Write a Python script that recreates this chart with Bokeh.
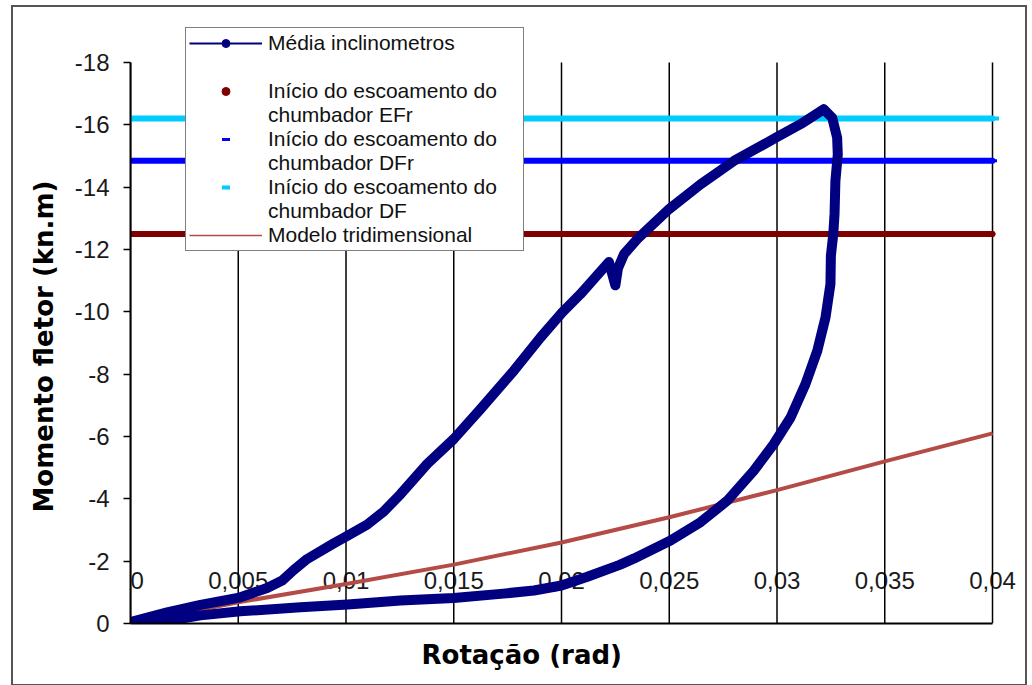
from bokeh.plotting import figure
from bokeh.models import Range1d, FixedTicker, Legend, LegendItem, Title
from bokeh.core.properties import value
from bokeh.embed import file_html
from bokeh.resources import INLINE

# ---- data ----
# Média inclinometros: rotation (rad) and bending moment (kN.m), loop order
rot = [0.0000, 0.0017, 0.00325, 0.0051, 0.00634, 0.00704, 0.00758, 0.0082,
       0.00943, 0.01008, 0.01098, 0.01176, 0.01253, 0.01377, 0.0150, 0.01624,
       0.01779, 0.01903, 0.02003, 0.02088, 0.0222, 0.0225, 0.02262, 0.0229,
       0.02351, 0.0250, 0.02645, 0.0280, 0.03001, 0.03109, 0.03217,
       0.03256, 0.03279, 0.03282, 0.03271, 0.03267, 0.03261, 0.0325, 0.03248,
       0.03225, 0.03187, 0.03132, 0.03063, 0.02985, 0.02892, 0.02769, 0.02645,
       0.02506, 0.02335, 0.0227, 0.0212, 0.0200, 0.01872, 0.01717, 0.0150,
       0.01253, 0.01008, 0.00789, 0.0051, 0.00325, 0.0010]
mom = [-0.05, -0.36, -0.60, -0.84, -1.14, -1.38, -1.72, -2.07,
       -2.57, -2.82, -3.17, -3.60, -4.15, -5.12, -5.92, -6.88,
       -8.11, -9.18, -9.98, -10.57, -11.60, -10.85, -11.40, -11.85,
       -12.33, -13.30, -14.09, -14.84, -15.61, -16.02, -16.50,
       -16.23, -15.59, -15.05, -14.20, -13.14, -12.49, -11.80, -10.89,
       -9.82, -8.75, -7.68, -6.61, -5.76, -4.90, -3.94, -3.25,
       -2.66, -2.08, -1.88, -1.50, -1.22, -1.06, -0.95, -0.82,
       -0.74, -0.61, -0.52, -0.39, -0.26, 0.00]

# Modelo tridimensional
modelo_rot = [0.0, 0.005, 0.01, 0.015, 0.02, 0.025, 0.03, 0.035, 0.04]
modelo_mom = [0.0, -0.68, -1.27, -1.89, -2.60, -3.41, -4.28, -5.20, -6.10]

# Início do escoamento (constant levels)
lim_rot = [0.0, 0.04]
efr_mom = [-12.5, -12.5]
dfr_mom = [-14.85, -14.85]
df_mom = [-16.2, -16.2]

x_ticks = [0.0, 0.005, 0.01, 0.015, 0.02, 0.025, 0.03, 0.035, 0.04]
x_tick_labels = ["0", "0,005", "0,01", "0,015", "0,02", "0,025", "0,03", "0,035", "0,04"]
y_ticks = [0, -2, -4, -6, -8, -10, -12, -14, -16, -18]
y_tick_labels = ["0", "-2", "-4", "-6", "-8", "-10", "-12", "-14", "-16", "-18"]

label_font = "Liberation Sans"
title_font = "DejaVu Sans"

p = figure(frame_width=888, frame_height=608, output_backend="svg", toolbar_location=None,
           title=None,
           x_range=Range1d(0, 0.041206), y_range=Range1d(0, -19.508),
           min_border_left=117, min_border_right=7,
           min_border_top=8, min_border_bottom=61)
p.styles = {"border": "2px solid #555555", "margin-left": "11px", "margin-top": "5px"}
p.outline_line_color = None
p.background_fill_color = "white"
p.border_fill_color = "white"
p.xgrid.grid_line_color = None
p.ygrid.grid_line_color = None

# y axis
p.yaxis.ticker = FixedTicker(ticks=y_ticks)
p.yaxis.major_label_overrides = dict(zip(y_ticks, y_tick_labels))
p.yaxis.bounds = (min(y_ticks), max(y_ticks))
p.yaxis.axis_line_color = "black"
p.yaxis.axis_line_width = 2
p.yaxis.major_tick_line_color = "black"
p.yaxis.major_tick_line_width = 1.5
p.yaxis.major_tick_out = 7
p.yaxis.major_tick_in = 0
p.yaxis.minor_tick_line_color = None
p.yaxis.major_label_standoff = 14
p.yaxis.major_label_text_font = label_font
p.yaxis.major_label_text_font_size = "24px"
p.yaxis.major_label_text_color = "#1a1a1a"

p.add_layout(Title(text="Momento fletor (kn.m)", align="left", offset=111, standoff=26,
                   text_font=title_font, text_font_size="26px", text_font_style="bold",
                   text_color="black"), "left")

# x axis: only the line; labels sit inside the plot like the original
p.xaxis.ticker = FixedTicker(ticks=[])
p.xaxis.bounds = (min(x_ticks), max(x_ticks))
p.xaxis.axis_line_color = "black"
p.xaxis.axis_line_width = 2
p.xaxis.major_tick_line_color = None
p.xaxis.minor_tick_line_color = None

p.add_layout(Title(text="Rotação (rad)", align="left", offset=291, standoff=28,
                   text_font=title_font, text_font_size="26px", text_font_style="bold",
                   text_color="black"), "below")

# vertical grid lines at the x ticks, from 0 to -18
p.segment(x0=x_ticks, y0=max(y_ticks), x1=x_ticks, y1=min(y_ticks),
          line_color="black", line_width=1.5, level="underlay")

# x tick labels inside the plot area (first one kept clear of the left edge)
p.text(x=x_ticks[:1], y=-1.38, text=x_tick_labels[:1],
       text_font=value(label_font), text_font_size="24px",
       text_color="#1a1a1a", text_align="left", text_baseline="middle",
       level="image")
p.text(x=x_ticks[1:], y=-1.38, text=x_tick_labels[1:],
       text_font=value(label_font), text_font_size="24px",
       text_color="#1a1a1a", text_align="center", text_baseline="middle",
       level="image")

# legend glyph renderers (drawn underneath the visible thick series)
leg_media_line = p.line(rot, mom, line_color="#000080", line_width=2)
leg_media_mark = p.scatter(rot, mom, marker="circle", size=8, fill_color="#000080",
                           line_color="#000080")
leg_efr = p.scatter(lim_rot, efr_mom, marker="circle", size=5, fill_color="#800000",
                    line_color="#800000")
leg_dfr = p.scatter(lim_rot, dfr_mom, marker="dash", size=9, line_color="#0000FF",
                    line_width=3)
leg_df = p.scatter(lim_rot, df_mom, marker="dash", size=13, line_color="#00CCFF",
                   line_width=4)
leg_modelo = p.line(modelo_rot, modelo_mom, line_color="#B54B46", line_width=1.5)

# visible series
p.line(lim_rot, efr_mom, line_color="#800000", line_width=6, line_cap="round")
p.line(lim_rot, dfr_mom, line_color="#0000FF", line_width=6, line_cap="round")
p.line(lim_rot, df_mom, line_color="#00CCFF", line_width=6, line_cap="round")
p.line(modelo_rot, modelo_mom, line_color="#B54B46", line_width=4, line_join="round")
p.line(rot, mom, line_color="#000080", line_width=10, line_join="round", line_cap="round")

# legend: each glyph sits on the middle line of its entry
legend = Legend(items=[
    LegendItem(label="Média inclinometros", renderers=[leg_media_line, leg_media_mark]),
    LegendItem(label=" \nInício do escoamento do\nchumbador EFr", renderers=[leg_efr]),
    LegendItem(label="Início do escoamento do", renderers=[leg_dfr]),
    LegendItem(label="chumbador DFr\nInício do escoamento do\nchumbador DF", renderers=[leg_df]),
    LegendItem(label="Modelo tridimensional", renderers=[leg_modelo]),
],
    location=(55, 372), orientation="vertical",
    padding=3, spacing=0, margin=0,
    glyph_width=73, glyph_height=20, label_standoff=6,
    label_width=252, label_height=20,
    label_text_font=label_font, label_text_font_size="21px",
    label_text_line_height=0.95, label_text_color="#111111",
    border_line_color="black", border_line_width=1.5,
    background_fill_color="white", background_fill_alpha=1.0)
p.add_layout(legend)

open("out.html", "w").write(file_html(p, INLINE))
